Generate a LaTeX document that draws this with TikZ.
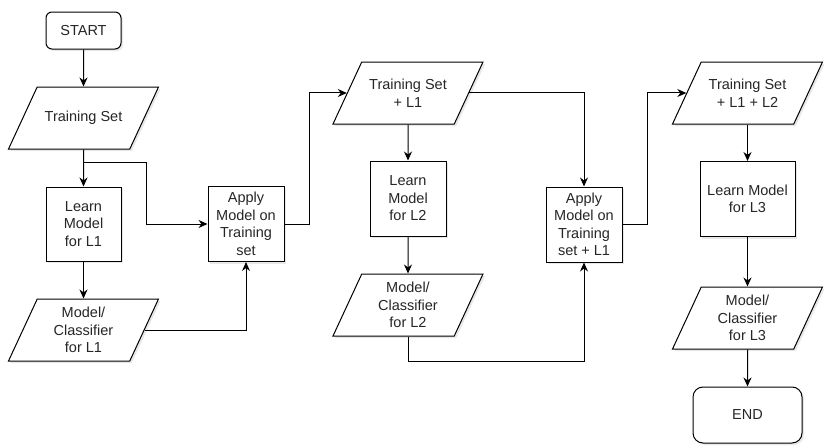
\documentclass[tikz,border=0pt]{standalone}
\usepackage{fontspec}
\setmainfont{Liberation Sans}
\usepackage{tikz}
\usetikzlibrary{arrows.meta, shapes.geometric, shadows}
\definecolor{inkgray}{HTML}{262626}

\begin{document}
\begin{tikzpicture}[x=1pt, y=-1pt,
    base/.style={draw=black, fill=white, line width=1pt, align=center,
                 inner sep=2pt, text=inkgray,
                 font=\fontsize{14.5}{17.5}\selectfont,
                 drop shadow={shadow xshift=2pt, shadow yshift=-2pt, opacity=0.18}},
    terminal/.style={base, rounded corners=6pt,
                     minimum width=75pt, minimum height=37pt},
    process/.style={base, minimum width=76pt, minimum height=75pt},
    io/.style={base, trapezium, trapezium left angle=65,
               trapezium right angle=115, trapezium stretches body,
               inner ysep=#1, minimum width=150pt, minimum height=62pt},
    io/.default=8pt,
    arr/.style={-{Stealth[length=9pt, width=8pt]}, line width=1pt}
  ]
  \useasboundingbox (0,0) rectangle (833,447);

  % L1
  \node[terminal] (start) at (83.5,30.5) {START};
  \node[io=24pt] (ts) at (83.5,118) {Training Set};
  \node[process, minimum width=75pt, minimum height=74pt] (learn1) at (83.5,224) {Learn\\Model\\for L1};
  \node[io] (clf1) at (83.5,330) {Model/\\Classifier\\for L1};
  \node[process] (apply1) at (246,224) {Apply\\Model on\\Training\\set};

  % L2
  \node[io=16.8pt] (ts1) at (408,93) {Training Set\\+ L1};
  \node[process] (learn2) at (408,198.5) {Learn\\Model\\for L2};
  \node[io] (clf2) at (408,305) {Model/\\Classifier\\for L2};
  \node[process] (apply2) at (584,224.5) {Apply\\Model on\\Training\\set + L1};

  % L3
  \node[io=16.8pt] (ts2) at (747.5,93) {Training Set\\+ L1 + L2};
  \node[process, minimum width=95pt] (learn3) at (747.5,199) {Learn Model\\for L3};
  \node[io] (clf3) at (747.5,318) {Model/\\Classifier\\for L3};
  \node[terminal, minimum width=109pt, minimum height=56pt, rounded corners=10pt] (end) at (747.5,415) {END};

  % connectors
  \draw[arr] (start) -- (ts);
  \draw[arr] (ts) -- (learn1);
  \draw[arr] (ts.south) -- ++(0,13) -- ++(63,0) |- (apply1.west);
  \draw[arr] (learn1) -- (clf1);
  \draw[arr] (clf1.east) -| (apply1.south);
  \draw[arr] (apply1.east) -- ++(25,0) |- (ts1.west);
  \draw[arr] (ts1) -- (learn2);
  \draw[arr] (learn2) -- (clf2);
  \draw[arr] (ts1.east) -| (apply2.north);
  \draw[arr] (clf2.south) -- ++(0,25) -| (apply2.south);
  \draw[arr] (apply2.east) -- ++(25,0) |- (ts2.west);
  \draw[arr] (ts2) -- (learn3);
  \draw[arr] (learn3) -- (clf3);
  \draw[arr] (clf3) -- (end);
\end{tikzpicture}
\end{document}
